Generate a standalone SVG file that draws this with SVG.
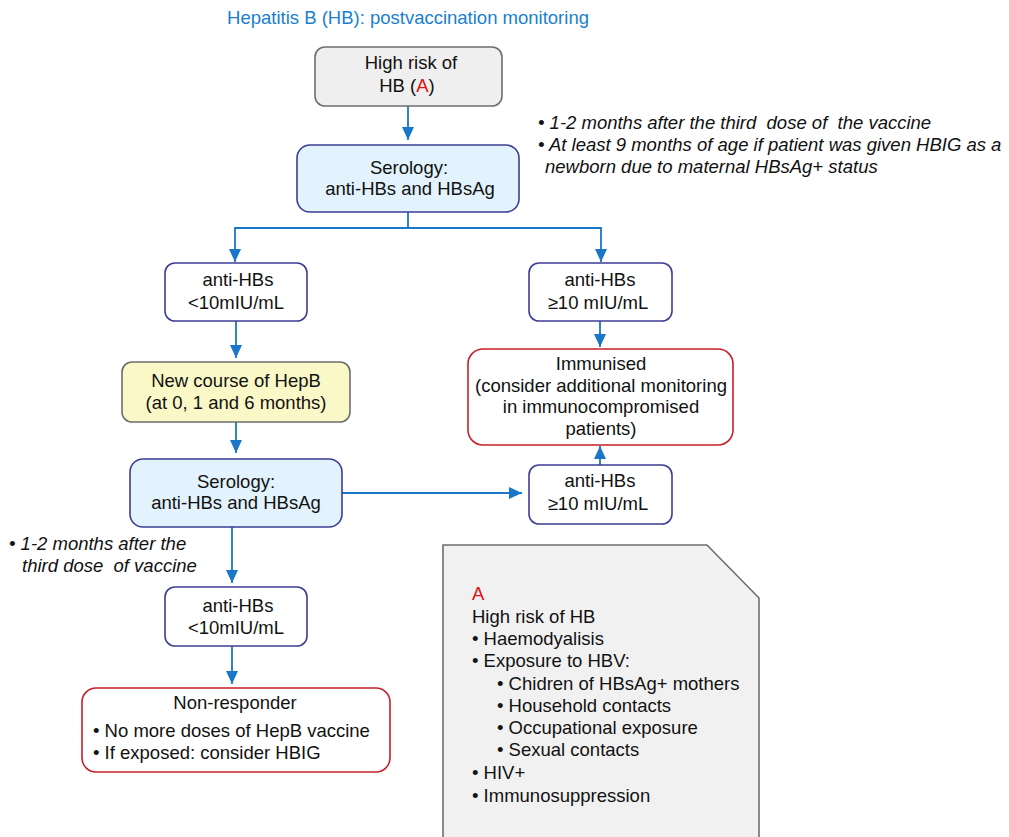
<svg xmlns="http://www.w3.org/2000/svg" width="1009" height="837" viewBox="0 0 1009 837">
<style>
text{font-family:"Liberation Sans",Arial,sans-serif;font-size:18.5px;fill:#111}
.c{text-anchor:middle}
.it{font-style:italic;white-space:pre}
.title{fill:#1a7fd0}
.red{fill:#e01010}
.nav{fill:#e2f3fd;stroke:#3d3d94;stroke-width:1.6}
.gry{fill:#efefef;stroke:#6e6e6e;stroke-width:1.6}
.yel{fill:#fbf8c8;stroke:#6e6e6e;stroke-width:1.6}
.wn{fill:#fff;stroke:#3d3d94;stroke-width:1.6}
.wr{fill:#fff;stroke:#c8202a;stroke-width:1.6}
.conn{fill:none;stroke:#1a76c8;stroke-width:1.8}
</style>
<defs>
<marker id="ah" viewBox="0 0 13 12" refX="13" refY="6" markerWidth="13" markerHeight="12" markerUnits="userSpaceOnUse" orient="auto">
<path d="M0,0 L13,6 L0,12 Z" fill="#1a76c8"/>
</marker>
</defs>
<rect width="1009" height="837" fill="#fff"/>
<text class="title" x="408" y="24" text-anchor="middle">Hepatitis B (HB): postvaccination monitoring</text>

<g id="connectors">
<path class="conn" d="M408,106 V140" marker-end="url(#ah)"/>
<path class="conn" d="M408,212 V228 M235,228 H601"/>
<path class="conn" d="M235,227.1 V262" marker-end="url(#ah)"/>
<path class="conn" d="M601,227.1 V262" marker-end="url(#ah)"/>
<path class="conn" d="M236,321 V358" marker-end="url(#ah)"/>
<path class="conn" d="M236,422 V453" marker-end="url(#ah)"/>
<path class="conn" d="M342,493 H522" marker-end="url(#ah)"/>
<path class="conn" d="M600,321 V347" marker-end="url(#ah)"/>
<path class="conn" d="M600,465 V446" marker-end="url(#ah)"/>
<path class="conn" d="M232,527 V583" marker-end="url(#ah)"/>
<path class="conn" d="M232,646 V684" marker-end="url(#ah)"/>
</g>

<g id="n-highrisk">
<rect class="gry" x="315" y="47" width="187" height="59" rx="10"/>
<text class="c" x="411" y="69">High risk of</text>
<text class="c" x="407" y="92">HB (<tspan class="red">A</tspan>)</text>
</g>

<g id="n-serology1">
<rect class="nav" x="297" y="145" width="222" height="67" rx="13"/>
<text class="c" x="409" y="174">Serology:</text>
<text class="c" x="410" y="195">anti-HBs and HBsAg</text>
</g>

<g id="note-top">
<text class="it" x="538" y="129">• 1-2 months after the third  dose of  the vaccine</text>
<text class="it" x="538" y="151">• At least 9 months of age if patient was given HBIG as a</text>
<text class="it" x="545" y="173">newborn due to maternal HBsAg+ status</text>
</g>

<g id="n-low1">
<rect class="wn" x="165" y="263" width="142" height="58" rx="10"/>
<text class="c" x="238" y="286">anti-HBs</text>
<text class="c" x="236" y="309">&lt;10mIU/mL</text>
</g>

<g id="n-high1">
<rect class="wn" x="529" y="263" width="143" height="58" rx="10"/>
<text class="c" x="600" y="286">anti-HBs</text>
<text class="c" x="598" y="309">≥10 mIU/mL</text>
</g>

<g id="n-newcourse">
<rect class="yel" x="122" y="362" width="228" height="60" rx="10"/>
<text class="c" x="236" y="387">New course of HepB</text>
<text class="c" x="236" y="409">(at 0, 1 and 6 months)</text>
</g>

<g id="n-immunised">
<rect class="wr" x="468" y="349" width="265" height="96" rx="15"/>
<text class="c" x="601" y="370">Immunised</text>
<text class="c" x="601" y="392">(consider additional monitoring</text>
<text class="c" x="601" y="413">in immunocompromised</text>
<text class="c" x="601" y="435">patients)</text>
</g>

<g id="n-serology2">
<rect class="nav" x="130" y="459" width="212" height="68" rx="13"/>
<text class="c" x="236" y="488">Serology:</text>
<text class="c" x="236" y="509">anti-HBs and HBsAg</text>
</g>

<g id="n-high2">
<rect class="wn" x="529" y="465" width="143" height="59" rx="10"/>
<text class="c" x="600" y="487">anti-HBs</text>
<text class="c" x="598" y="510">≥10 mIU/mL</text>
</g>

<g id="note-left">
<text class="it" x="9" y="550">• 1-2 months after the</text>
<text class="it" x="22" y="572">third dose  of vaccine</text>
</g>

<g id="n-low2">
<rect class="wn" x="165" y="587" width="142" height="59" rx="10"/>
<text class="c" x="238" y="612">anti-HBs</text>
<text class="c" x="236" y="634">&lt;10mIU/mL</text>
</g>

<g id="n-nonresponder">
<rect class="wr" x="82" y="688" width="308" height="84" rx="14"/>
<text class="c" x="235" y="709">Non-responder</text>
<text x="93" y="737">• No more doses of HepB vaccine</text>
<text x="93" y="759">• If exposed: consider HBIG</text>
</g>

<g id="legend-A">
<path d="M443,845 V545 H707 L759,598 V845" fill="#f1f1f1" stroke="#6e6e6e" stroke-width="1.6"/>
<text class="red" x="472" y="600">A</text>
<text x="472" y="623">High risk of HB</text>
<text x="472" y="645">• Haemodyalisis</text>
<text x="472" y="667">• Exposure to HBV:</text>
<text x="497" y="690">• Chidren of HBsAg+ mothers</text>
<text x="497" y="712">• Household contacts</text>
<text x="497" y="734">• Occupational exposure</text>
<text x="497" y="756">• Sexual contacts</text>
<text x="472" y="779">• HIV+</text>
<text x="472" y="802">• Immunosuppression</text>
</g>
</svg>
